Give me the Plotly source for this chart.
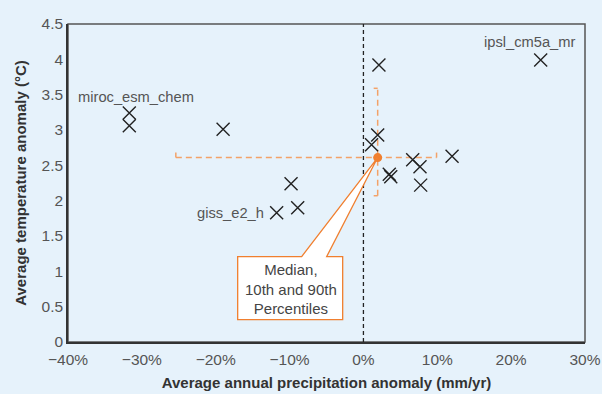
import plotly.graph_objects as go

# ---- data ----
precip = [-31.7, -31.7, -19.0, -9.8, -11.75, -8.9, 2.1, 1.93, 1.1, 3.5, 3.7, 6.67, 7.66, 7.75, 12.0, 24.0]
temp   = [3.24, 3.06, 3.01, 2.24, 1.83, 1.90, 3.92, 2.93, 2.79, 2.375, 2.34, 2.58, 2.48, 2.22, 2.63, 3.99]
models = ["miroc_esm_chem", "", "", "", "giss_e2_h", "", "", "", "", "", "", "", "", "", "", "ipsl_cm5a_mr"]
median_precip = 1.93
median_temp = 2.61
precip_p10, precip_p90 = -25.4, 9.9
temp_p10, temp_p90 = 2.07, 3.59
x_ticks = [-40, -30, -20, -10, 0, 10, 20, 30]
x_tick_labels = ["\u221240%", "\u221230%", "\u221220%", "\u221210%", "0%", "10%", "20%", "30%"]
y_ticks = [0, 0.5, 1, 1.5, 2, 2.5, 3, 3.5, 4, 4.5]
y_tick_labels = ["0", "0.5", "1", "1.5", "2", "2.5", "3", "3.5", "4", "4.5"]

BG = "#e6f2fb"
ORANGE = "#f07f2f"
ORANGE_L = "#f3a268"
FONT = "Liberation Sans, Arial, sans-serif"

fig = go.Figure()

# zero line
fig.add_trace(go.Scatter(x=[0, 0], y=[y_ticks[0], y_ticks[-1]], mode="lines",
                         line=dict(color="#222", width=1.3, dash="4px,3px"),
                         hoverinfo="skip", showlegend=False))

# percentile lines
fig.add_trace(go.Scatter(x=[precip_p10, precip_p90], y=[median_temp, median_temp], mode="lines",
                         line=dict(color=ORANGE_L, width=1.5, dash="6px,4px"),
                         hoverinfo="skip", showlegend=False))
fig.add_trace(go.Scatter(x=[median_precip, median_precip], y=[temp_p10, temp_p90], mode="lines",
                         line=dict(color=ORANGE_L, width=1.5, dash="6px,4px"),
                         hoverinfo="skip", showlegend=False))

# caps
for xv in (precip_p10, precip_p90):
    fig.add_shape(type="line", xref="x", yref="y", ysizemode="pixel", yanchor=median_temp,
                  x0=xv, x1=xv, y0=0, y1=5, line=dict(color=ORANGE_L, width=1.5))
for yv in (temp_p10, temp_p90):
    fig.add_shape(type="line", xref="x", yref="y", xsizemode="pixel", xanchor=median_precip,
                  x0=-4, x1=0, y0=yv, y1=yv, line=dict(color=ORANGE_L, width=1.5))

# model points
fig.add_trace(go.Scatter(x=precip, y=temp, mode="markers",
                         marker=dict(symbol="x-thin-open", size=13, color="#222",
                                     line=dict(color="#222", width=1.4)),
                         showlegend=False))

# callout
fig.add_shape(type="path", xref="x", yref="y", xsizemode="pixel", ysizemode="pixel",
              xanchor=median_precip, yanchor=median_temp,
              path="M -76,-99 L 0,0 L -51,-99 L -35,-99 L -35,-162 L -140,-162 L -140,-99 Z",
              fillcolor="white", line=dict(color=ORANGE, width=1.3), layer="above")

fig.add_trace(go.Scatter(x=[median_precip], y=[median_temp], mode="markers",
                         marker=dict(symbol="circle", size=9, color=ORANGE),
                         showlegend=False))

fig.add_annotation(x=median_precip, y=median_temp, xref="x", yref="y",
                   text="Median,<br>10th and 90th<br>Percentiles", showarrow=False,
                   xshift=-87, yshift=-131, font=dict(family=FONT, size=15, color="#444"),
                   align="center")

# model labels
label_pos = {"miroc_esm_chem": (7, 16, "center"), "ipsl_cm5a_mr": (-11, 18, "center"),
             "giss_e2_h": (-46, 0, "center")}
for px, ty, name in zip(precip, temp, models):
    if name:
        dx, dy, anc = label_pos[name]
        fig.add_annotation(x=px, y=ty, xref="x", yref="y", text=name, showarrow=False,
                           xshift=dx, yshift=dy, xanchor=anc,
                           font=dict(family=FONT, size=14.7, color="#555"))

fig.update_layout(
    width=602, height=394,
    margin=dict(l=68, r=17, t=24, b=52, autoexpand=False),
    paper_bgcolor=BG, plot_bgcolor=BG,
    font=dict(family=FONT, color="#444"),
    xaxis=dict(range=[x_ticks[0], x_ticks[-1]], tickmode="array", tickvals=x_ticks,
               ticktext=x_tick_labels, automargin=False, ticklabelstandoff=3,
               showgrid=False, zeroline=False, showline=True, linecolor="#333", linewidth=1.5,
               mirror=False, ticks="", tickfont=dict(family=FONT, size=15.5, color="#555"),
               title=dict(text="<b>Average annual precipitation anomaly (mm/yr)</b>",
                          font=dict(family=FONT, size=15, color="#333"), standoff=10)),
    yaxis=dict(range=[y_ticks[0], y_ticks[-1]], tickmode="array", tickvals=y_ticks,
               ticktext=y_tick_labels, automargin=False,
               showgrid=False, zeroline=False, showline=True, linecolor="#333", linewidth=1.5,
               ticks="", tickfont=dict(family=FONT, size=15.5, color="#555"),
               title=dict(text="<b>Average temperature anomaly (°C)</b>",
                          font=dict(family=FONT, size=15, color="#333"), standoff=11)),
)
# top/right border
fig.add_shape(type="rect", xref="paper", yref="paper", x0=0, x1=1, y0=0, y1=1,
              line=dict(color="#555", width=1.5), layer="below")

fig.write_html("out.html", config={"displayModeBar": False},
               post_script="document.body.style.margin='0';document.body.style.background='#e6f2fb';")
